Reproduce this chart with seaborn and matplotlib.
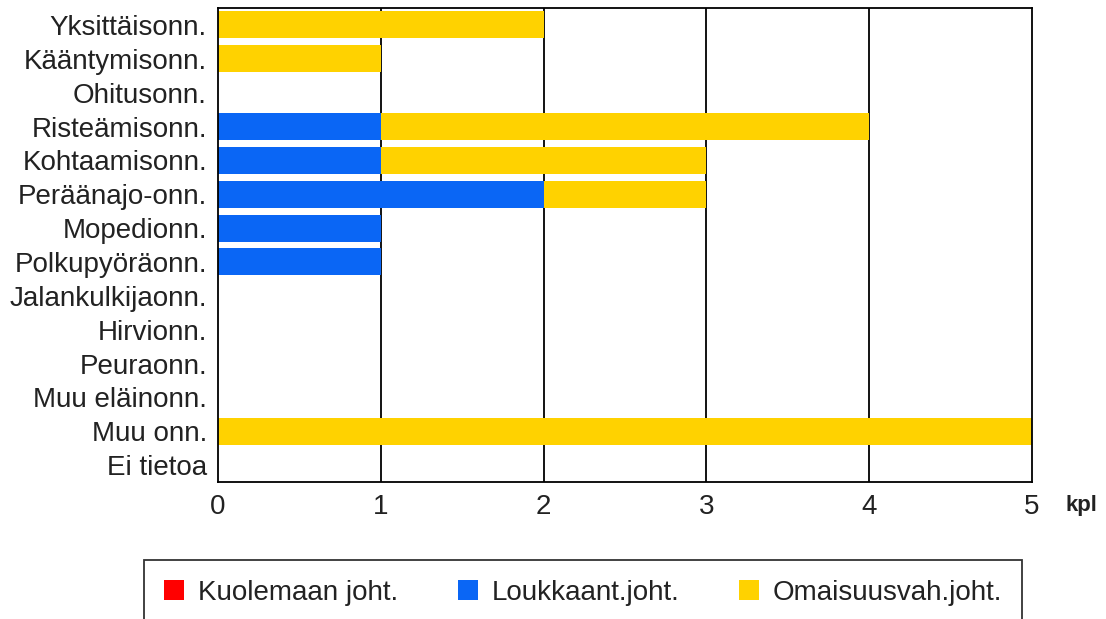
import pandas as pd
import seaborn as sns
import matplotlib.pyplot as plt
from matplotlib.patches import Patch

# Data
categories = ["Yksittäisonn.", "Kääntymisonn.", "Ohitusonn.", "Risteämisonn.",
              "Kohtaamisonn.", "Peräänajo-onn.", "Mopedionn.", "Polkupyöräonn.",
              "Jalankulkijaonn.", "Hirvionn.", "Peuraonn.", "Muu eläinonn.",
              "Muu onn.", "Ei tietoa"]
kuolemaan = [0, 0, 0, 0, 0, 0, 0, 0, 0, 0, 0, 0, 0, 0]
loukkaant = [0, 0, 0, 1, 1, 2, 1, 1, 0, 0, 0, 0, 0, 0]
omaisuus = [2, 1, 0, 3, 2, 1, 0, 0, 0, 0, 0, 0, 5, 0]
series_labels = ["Kuolemaan joht.", "Loukkaant.joht.", "Omaisuusvah.joht."]
x_ticks = [0, 1, 2, 3, 4, 5]

RED = "#FF0000"
BLUE = "#0A66F5"
YELLOW = "#FFD200"
FS = 20

df = pd.DataFrame({"cat": categories, "kuol": kuolemaan,
                   "louk": loukkaant, "omai": omaisuus})
df["lv1"] = df["kuol"]
df["lv2"] = df["kuol"] + df["louk"]
df["lv3"] = df["lv2"] + df["omai"]

sns.set_theme(style="white")
plt.rcParams["font.family"] = ["Liberation Sans", "DejaVu Sans"]

fig = plt.figure(figsize=(11.06, 6.19), dpi=100)
ax = fig.add_axes([218 / 1106, 1 - 482 / 619, (1032 - 218) / 1106, (482 - 8) / 619])

# stacked horizontal bars: draw cumulative totals from the back to the front
for col, color in [("lv3", YELLOW), ("lv2", BLUE), ("lv1", RED)]:
    sns.barplot(data=df, x=col, y="cat", orient="h", color=color,
                width=0.8, saturation=1, linewidth=0, ax=ax, zorder=2)

ax.set_xlim(0, 5)
ax.set_ylim(len(categories) - 0.5, -0.5)
ax.set_xticks(x_ticks)
ax.set_xticklabels([str(t) for t in x_ticks])
ax.set_xlabel("")
ax.set_ylabel("")
for t in x_ticks[1:-1]:
    ax.axvline(t, color="black", linewidth=1.3, zorder=1)
for s in ax.spines.values():
    s.set_color("black")
    s.set_linewidth(1.3)
ax.tick_params(axis="x", length=0, pad=9, labelsize=FS, colors="#222222")
ax.tick_params(axis="y", length=0, pad=8, labelsize=FS, colors="#222222")

fig.text(1081 / 1106, 1 - 505 / 619, "kpl", fontsize=16, fontweight="bold",
         ha="center", va="center", color="#222222")

handles = [Patch(facecolor=c, edgecolor="none") for c in (RED, BLUE, YELLOW)]
leg = fig.legend(handles, series_labels, ncol=3, loc="upper left",
                 bbox_to_anchor=(144 / 1106, 1 - 560 / 619, (1022 - 144) / 1106, 0.0),
                 mode="expand", frameon=True, fancybox=False, fontsize=FS,
                 handlelength=0.72, handleheight=0.72, handletextpad=0.5,
                 borderpad=0.72, borderaxespad=0)
leg.get_frame().set_edgecolor("black")
leg.get_frame().set_linewidth(1.3)
for txt in leg.get_texts():
    txt.set_color("#222222")

fig.savefig("out.png", dpi=100)
